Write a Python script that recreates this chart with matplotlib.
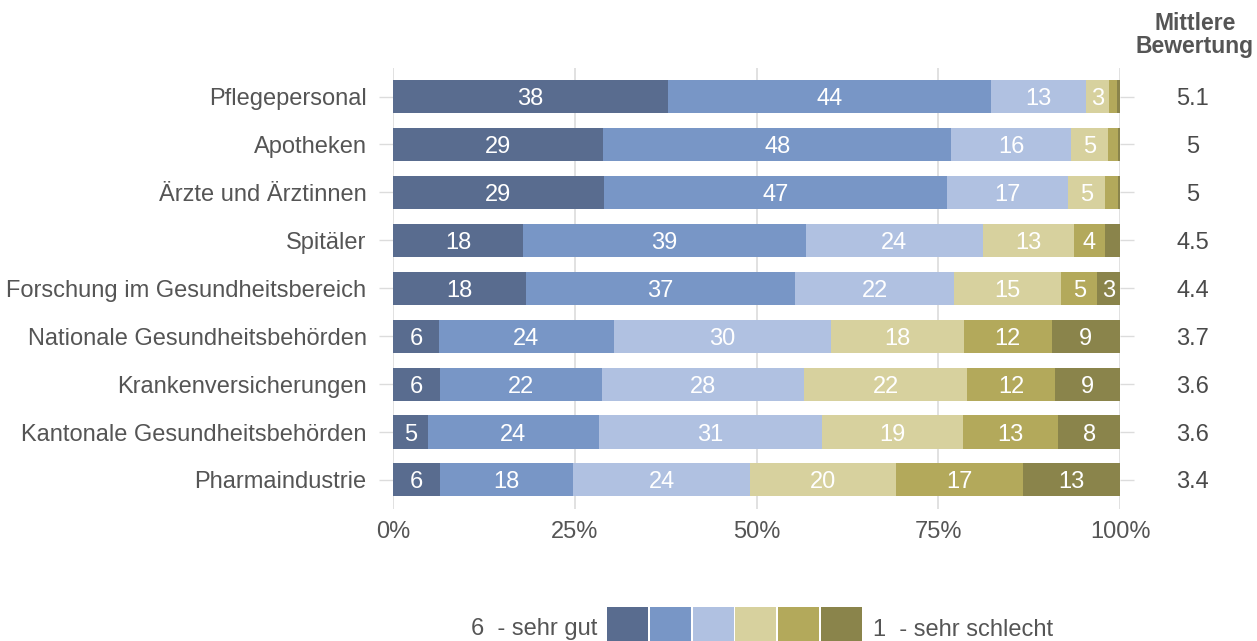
import matplotlib
matplotlib.use("Agg")
import matplotlib.pyplot as plt
from matplotlib.patches import Rectangle
import numpy as np

categories = ["Pflegepersonal", "Apotheken", "Ärzte und Ärztinnen", "Spitäler",
              "Forschung im Gesundheitsbereich", "Nationale Gesundheitsbehörden",
              "Krankenversicherungen", "Kantonale Gesundheitsbehörden", "Pharmaindustrie"]
# shares for ratings 6 (sehr gut) .. 1 (sehr schlecht), percent
r6 = [37.8, 28.9, 29.0, 17.9, 18.3, 6.3, 6.4, 4.8, 6.4]
r5 = [44.4, 47.9, 47.2, 38.9, 37.0, 24.1, 22.3, 23.5, 18.4]
r4 = [13.1, 16.4, 16.6, 24.3, 21.9, 29.8, 27.9, 30.7, 24.3]
r3 = [3.2, 5.2, 5.1, 12.6, 14.7, 18.3, 22.3, 19.4, 20.1]
r2 = [1.1, 1.3, 1.8, 4.2, 5.0, 12.1, 12.2, 13.1, 17.4]
r1 = [0.4, 0.3, 0.3, 2.1, 3.1, 9.4, 8.9, 8.5, 13.4]
mean_rating = ["5.1", "5", "5", "4.5", "4.4", "3.7", "3.6", "3.6", "3.4"]
xticks = [0, 25, 50, 75, 100]
xticklabels = ["0%", "25%", "50%", "75%", "100%"]
legend_left = "6  - sehr gut"
legend_right = "1  - sehr schlecht"
header = "Mittlere\nBewertung"

colors = ["#596c8f", "#7896c6", "#b0c1e1", "#d7d19e", "#b3a95b", "#8a844b"]
series = [r6, r5, r4, r3, r2, r1]

plt.rcParams['font.family'] = ['Liberation Sans', 'DejaVu Sans']
text_grey = "#555555"
grid_grey = "#dcdcdc"
fs = 17

W, H = 1257, 641
fig = plt.figure(figsize=(W / 100, H / 100), dpi=100)
ax = fig.add_axes([393 / W, 1 - 508.7 / H, (1120 - 393) / W, (508.7 - 67.8) / H])

y = np.arange(len(categories))
left = np.zeros(len(categories))
for vals, col in zip(series, colors):
    vals = np.array(vals)
    ax.barh(y, vals, left=left, height=0.69, color=col, zorder=2)
    for yi, (l, v) in enumerate(zip(left, vals)):
        if v >= 2.5:
            ax.text(l + v / 2, yi, f"{round(v):d}", ha="center", va="center_baseline",
                    color="white", fontsize=fs, zorder=3)
    left += vals

ax.set_xlim(0, 100)
ax.set_ylim(len(categories) - 0.4, -0.6)
ax.set_xticks(xticks)
ax.set_xticklabels(xticklabels, fontsize=fs, color=text_grey)
ax.set_yticks(y)
ax.set_yticklabels(categories, fontsize=fs, color=text_grey, va="center_baseline")
ax.tick_params(axis="x", length=0, pad=9)
ax.tick_params(axis="y", length=10, width=1, color=grid_grey, pad=9,
               right=True)
ax.grid(axis="x", color=grid_grey, linewidth=1.2, zorder=0)
for s in ax.spines.values():
    s.set_visible(False)

# mean rating column
for yi, m in enumerate(mean_rating):
    ax.text(1.10, yi, m, transform=ax.get_yaxis_transform(), ha="center",
            va="center_baseline", fontsize=fs, color="#4a4a4a")
fig.text(1195 / W, 1 - 35 / H, header, ha="center", va="center", fontsize=16.5,
         fontweight="bold", color=text_grey, linespacing=1.0)

# legend
bx0, bw, step, by0, bh = 607, 41, 42.8, 607, 34
for i, col in enumerate(colors):
    fig.patches.append(Rectangle(((bx0 + i * step) / W, 1 - (by0 + bh) / H), bw / W, bh / H,
                                 transform=fig.transFigure, facecolor=col, edgecolor="none"))
fig.text(597 / W, 1 - 627 / H, legend_left, ha="right", va="center_baseline", fontsize=fs, color=text_grey)
fig.text(873 / W, 1 - 627 / H, legend_right, ha="left", va="center_baseline", fontsize=fs, color=text_grey)

fig.savefig("out.png", dpi=100)
